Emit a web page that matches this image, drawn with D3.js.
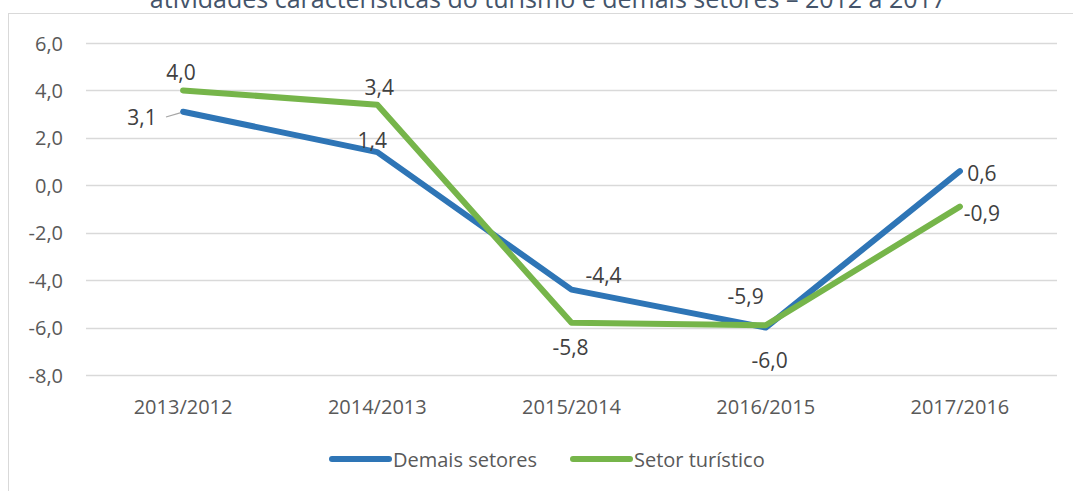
<!DOCTYPE html>
<html>
<head>
<meta charset="utf-8">
<script src="https://cdn.jsdelivr.net/npm/d3@7"></script>
<style>
  body { margin: 0; background: #fff; }
  text { font-family: "Open Sans", sans-serif; }
</style>
</head>
<body>
<script>
const title = 'atividades características do turismo e demais setores – 2012 a 2017'
const periods = ['2013/2012', '2014/2013', '2015/2014', '2016/2015', '2017/2016']
const demais = [3.1, 1.4, -4.4, -6.0, 0.6]
const turistico = [4.0, 3.4, -5.8, -5.9, -0.9]
const yTicks = [6, 4, 2, 0, -2, -4, -6, -8]

// label offsets from each point, [dx, dy]
const demaisOffsets = [[-41, 5], [-5, -12], [32, -15], [4, 32], [22, 2]]
const turisticoOffsets = [[-2, -18], [2, -18], [-1, 24], [-20, -29], [22, 6]]

const fmt = v => d3.format('.1f')(v).replace('.', ',').replace('−', '-')

function drawChart() {
    var svg = d3.select('body')
        .append('svg')
        .attr('width', 1073)
        .attr('height', 491)

    svg.append('rect')
        .attr('x', 8.5)
        .attr('y', 13.5)
        .attr('width', 1100)
        .attr('height', 500)
        .attr('fill', 'none')
        .attr('stroke', '#d9d9d9')

    // title is clipped by the top edge, as in the source image
    svg.append('text')
        .text(title)
        .attr('x', 548)
        .attr('y', 8)
        .attr('text-anchor', 'middle')
        .style('font-size', '25px')
        .style('fill', '#44546a')

    var x = d3.scalePoint().domain(periods).range([86, 1057]).padding(0.5)
    var y = d3.scaleLinear().domain([-8, 6]).range([375, 43])

    svg.selectAll('.grid')
        .data(yTicks)
        .enter()
        .append('line')
        .attr('x1', 86)
        .attr('x2', 1057)
        .attr('y1', function(d) { return Math.round(y(d)) + 0.5 })
        .attr('y2', function(d) { return Math.round(y(d)) + 0.5 })
        .attr('stroke', '#d9d9d9')
        .attr('stroke-width', 1.3)

    svg.selectAll('.ylab')
        .data(yTicks)
        .enter()
        .append('text')
        .text(fmt)
        .attr('x', 63)
        .attr('y', function(d) { return y(d) })
        .attr('text-anchor', 'end')
        .attr('dominant-baseline', 'central')
        .style('font-size', '20px')
        .style('fill', '#595959')

    svg.selectAll('.xlab')
        .data(periods)
        .enter()
        .append('text')
        .text(function(d) { return d })
        .attr('x', function(d) { return x(d) })
        .attr('y', 406)
        .attr('text-anchor', 'middle')
        .attr('dominant-baseline', 'central')
        .style('font-size', '20px')
        .style('fill', '#595959')

    var line = d3.line()
        .x(function(d, i) { return x(periods[i]) })
        .y(function(d) { return y(d) })

    var series = [
        { name: 'Demais setores', values: demais, color: '#2e75b6', offsets: demaisOffsets },
        { name: 'Setor turístico', values: turistico, color: '#76b54a', offsets: turisticoOffsets }
    ]

    series.forEach(function(s) {
        svg.append('path')
            .datum(s.values)
            .attr('d', line)
            .attr('fill', 'none')
            .attr('stroke', s.color)
            .attr('stroke-width', 6)
            .attr('stroke-linejoin', 'round')
            .attr('stroke-linecap', 'round')
    })

    // leader line for the 3,1 label
    svg.append('line')
        .attr('x1', 166)
        .attr('y1', 117)
        .attr('x2', x(periods[0]) - 3)
        .attr('y2', y(demais[0]) + 1)
        .attr('stroke', '#a6a6a6')
        .attr('stroke-width', 1.3)

    series.forEach(function(s) {
        svg.selectAll(null)
            .data(s.values)
            .enter()
            .append('text')
            .text(fmt)
            .attr('x', function(d, i) { return x(periods[i]) + s.offsets[i][0] })
            .attr('y', function(d, i) { return y(d) + s.offsets[i][1] })
            .attr('text-anchor', 'middle')
            .attr('dominant-baseline', 'central')
            .style('font-size', '21px')
            .style('fill', '#404040')
    })

    var legX = [332, 573]
    series.forEach(function(s, i) {
        svg.append('line')
            .attr('x1', legX[i])
            .attr('x2', legX[i] + 57)
            .attr('y1', 459)
            .attr('y2', 459)
            .attr('stroke', s.color)
            .attr('stroke-width', 6)
            .attr('stroke-linecap', 'round')

        svg.append('text')
            .text(s.name)
            .attr('x', legX[i] + 61)
            .attr('y', 459)
            .attr('dominant-baseline', 'central')
            .style('font-size', '20px')
            .style('fill', '#595959')
    })
}

drawChart()
</script>
</body>
</html>
